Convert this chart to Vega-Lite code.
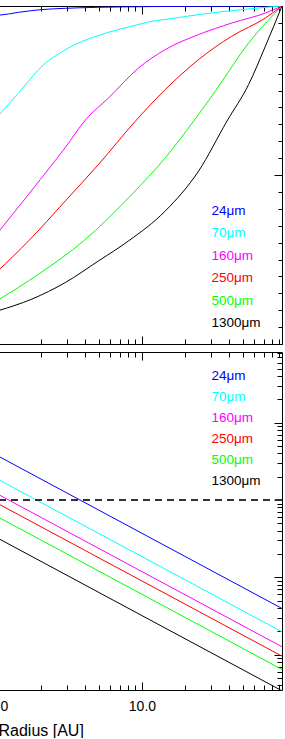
{
  "$schema": "https://vega.github.io/schema/vega-lite/v6.json",
  "background": "white",
  "padding": {"left": -12, "top": 5, "right": 0, "bottom": 0},
  "spacing": 8,
  "bounds": "flush",
  "config": {
    "font": "Liberation Sans",
    "view": {"stroke": null},
    "axis": {"domainColor": "black", "tickColor": "black", "grid": false, "labelColor": "black", "titleColor": "black", "domainWidth": 1, "tickWidth": 1}
  },
  "resolve": {"legend": {"color": "independent"}},
  "datasets": {
    "cum": [
      {"series": "24μm", "r": 1, "f": 0.9725}, {"series": "24μm", "r": 1.185, "f": 0.9764}, {"series": "24μm", "r": 1.39, "f": 0.9814}, {"series": "24μm", "r": 1.72, "f": 0.9864}, {"series": "24μm", "r": 2.019, "f": 0.9894}, {"series": "24μm", "r": 2.936, "f": 0.9932}, {"series": "24μm", "r": 5.0, "f": 0.9961}, {"series": "24μm", "r": 11.13, "f": 0.9982}, {"series": "24μm", "r": 24.77, "f": 0.9991}, {"series": "24μm", "r": 94, "f": 1.0},
      {"series": "70μm", "r": 1, "f": 0.6742}, {"series": "70μm", "r": 1.185, "f": 0.7094}, {"series": "70μm", "r": 1.39, "f": 0.7431}, {"series": "70μm", "r": 1.632, "f": 0.7776}, {"series": "70μm", "r": 1.915, "f": 0.8121}, {"series": "70μm", "r": 2.247, "f": 0.8387}, {"series": "70μm", "r": 2.637, "f": 0.8582}, {"series": "70μm", "r": 3.094, "f": 0.8759}, {"series": "70μm", "r": 3.633, "f": 0.8907}, {"series": "70μm", "r": 4.263, "f": 0.9025}, {"series": "70μm", "r": 5.87, "f": 0.9223}, {"series": "70μm", "r": 8.52, "f": 0.9401}, {"series": "70μm", "r": 11.13, "f": 0.9528}, {"series": "70μm", "r": 17.07, "f": 0.9645}, {"series": "70μm", "r": 24.77, "f": 0.9746}, {"series": "70μm", "r": 42.22, "f": 0.9864}, {"series": "70μm", "r": 64.7, "f": 0.9941}, {"series": "70μm", "r": 94, "f": 1.0},
      {"series": "160μm", "r": 1, "f": 0.3296}, {"series": "160μm", "r": 1.72, "f": 0.4554}, {"series": "160μm", "r": 2.936, "f": 0.5815}, {"series": "160μm", "r": 4.081, "f": 0.6645}, {"series": "160μm", "r": 5.87, "f": 0.7283}, {"series": "160μm", "r": 9.49, "f": 0.8169}, {"series": "160μm", "r": 14.54, "f": 0.8712}, {"series": "160μm", "r": 24.77, "f": 0.9155}, {"series": "160μm", "r": 42.22, "f": 0.9498}, {"series": "160μm", "r": 72.05, "f": 0.9793}, {"series": "160μm", "r": 94, "f": 1.0},
      {"series": "250μm", "r": 1, "f": 0.2165}, {"series": "250μm", "r": 1.632, "f": 0.3051}, {"series": "250μm", "r": 2.936, "f": 0.4232}, {"series": "250μm", "r": 5.0, "f": 0.5316}, {"series": "250μm", "r": 9.0, "f": 0.6592}, {"series": "250μm", "r": 14.54, "f": 0.7531}, {"series": "250μm", "r": 24.77, "f": 0.8417}, {"series": "250μm", "r": 42.02, "f": 0.9105}, {"series": "250μm", "r": 72.05, "f": 0.9646}, {"series": "250μm", "r": 94, "f": 1.0},
      {"series": "500μm", "r": 1, "f": 0.1299}, {"series": "500μm", "r": 1.915, "f": 0.2067}, {"series": "500μm", "r": 3.934, "f": 0.3051}, {"series": "500μm", "r": 8.52, "f": 0.443}, {"series": "500μm", "r": 14.54, "f": 0.5511}, {"series": "500μm", "r": 22.87, "f": 0.6594}, {"series": "500μm", "r": 32.36, "f": 0.748}, {"series": "500μm", "r": 55.14, "f": 0.8907}, {"series": "500μm", "r": 94, "f": 1.0},
      {"series": "1300μm", "r": 1, "f": 0.0984}, {"series": "1300μm", "r": 1.72, "f": 0.1329}, {"series": "1300μm", "r": 2.936, "f": 0.1819}, {"series": "1300μm", "r": 5.0, "f": 0.246}, {"series": "1300μm", "r": 8.08, "f": 0.3051}, {"series": "1300μm", "r": 14.54, "f": 0.3937}, {"series": "1300μm", "r": 24.77, "f": 0.5118}, {"series": "1300μm", "r": 38.97, "f": 0.6594}, {"series": "1300μm", "r": 55.14, "f": 0.7679}, {"series": "1300μm", "r": 72.05, "f": 0.881}, {"series": "1300μm", "r": 94, "f": 1.0}
    ],
    "tau": [
      {"series": "24μm", "r": 1, "tau": 3.71}, {"series": "24μm", "r": 94, "tau": 0.03947},
      {"series": "70μm", "r": 1, "tau": 1.85}, {"series": "70μm", "r": 94, "tau": 0.01968},
      {"series": "160μm", "r": 1, "tau": 1.185}, {"series": "160μm", "r": 94, "tau": 0.01261},
      {"series": "250μm", "r": 1, "tau": 0.896}, {"series": "250μm", "r": 94, "tau": 0.009532},
      {"series": "500μm", "r": 1, "tau": 0.603}, {"series": "500μm", "r": 94, "tau": 0.006415},
      {"series": "1300μm", "r": 1, "tau": 0.3195}, {"series": "1300μm", "r": 94, "tau": 0.003399}
    ]
  },
  "vconcat": [
    {
      "width": 284,
      "height": 338,
      "data": {"name": "cum"},
      "resolve": {"axis": {"x": "independent", "y": "independent"}},
      "layer": [
        {
          "transform": [{"filter": {"field": "series", "oneOf": ["24μm", "70μm", "160μm"]}}],
          "mark": {"type": "line", "strokeWidth": 1, "clip": true, "interpolate": "monotone"},
          "encoding": {
            "x": {"field": "r", "type": "quantitative", "scale": {"type": "log", "domain": [1, 94], "nice": false},
              "axis": {"orient": "bottom", "values": [1, 2, 3, 4, 5, 6, 7, 8, 9, 10, 20, 30, 40, 50, 60, 70, 80, 90], "tickSize": {"condition": {"test": "abs(log(datum.value)/LN10 - round(log(datum.value)/LN10)) < 0.001", "value": -8}, "value": -5}, "tickOpacity": {"condition": {"test": "datum.value == 1", "value": 0}, "value": 1}, "labels": false, "title": null}},
            "y": {"field": "f", "type": "quantitative", "scale": {"domain": [0, 1], "nice": false, "zero": false},
              "axis": {"orient": "right", "values": [0, 0.05, 0.1, 0.15, 0.2, 0.25, 0.3, 0.35, 0.4, 0.45, 0.5, 0.55, 0.6, 0.65, 0.7, 0.75, 0.8, 0.85, 0.9, 0.95, 1], "tickSize": {"condition": {"test": "abs(datum.value*2 - round(datum.value*2)) < 0.001", "value": -8}, "value": -4}, "labels": false, "title": null}},
            "color": {"field": "series", "type": "nominal",
              "scale": {"domain": ["24μm", "70μm", "160μm", "250μm", "500μm", "1300μm"], "range": ["#0000ff", "#00ffff", "#ff00ff", "#ff0000", "#00ff00", "#000000"]},
              "legend": {"orient": "none", "legendX": 200, "legendY": 198, "title": null, "padding": 0, "symbolSize": 0, "symbolOpacity": 0, "symbolStrokeWidth": 0, "symbolType": "circle", "labelOffset": 0, "labelFontSize": 13.5, "labelFont": "Liberation Sans", "rowPadding": 7.5,
                "labelColor": {"expr": "datum.label == '24μm' ? '#0000ff' : datum.label == '70μm' ? '#00ffff' : datum.label == '160μm' ? '#ff00ff' : datum.label == '250μm' ? '#ff0000' : datum.label == '500μm' ? '#00ff00' : '#000000'"}}}
          }
        },
        {
          "transform": [{"filter": {"field": "series", "oneOf": ["250μm", "500μm", "1300μm"]}}],
          "mark": {"type": "line", "strokeWidth": 1, "clip": true, "interpolate": "monotone"},
          "encoding": {
            "x": {"field": "r", "type": "quantitative", "scale": {"type": "log", "domain": [1, 94], "nice": false},
              "axis": {"orient": "top", "values": [1, 2, 3, 4, 5, 6, 7, 8, 9, 10, 20, 30, 40, 50, 60, 70, 80, 90], "tickSize": {"condition": {"test": "abs(log(datum.value)/LN10 - round(log(datum.value)/LN10)) < 0.001", "value": -8}, "value": -5}, "tickOpacity": {"condition": {"test": "datum.value == 1", "value": 0}, "value": 1}, "labels": false, "title": null}},
            "y": {"field": "f", "type": "quantitative", "scale": {"domain": [0, 1], "nice": false, "zero": false}, "axis": null},
            "color": {"field": "series", "type": "nominal",
              "scale": {"domain": ["24μm", "70μm", "160μm", "250μm", "500μm", "1300μm"], "range": ["#0000ff", "#00ffff", "#ff00ff", "#ff0000", "#00ff00", "#000000"]},
              "legend": {"orient": "none", "legendX": 200, "legendY": 198, "title": null, "padding": 0, "symbolSize": 0, "symbolOpacity": 0, "symbolStrokeWidth": 0, "symbolType": "circle", "labelOffset": 0, "labelFontSize": 13.5, "labelFont": "Liberation Sans", "rowPadding": 7.5,
                "labelColor": {"expr": "datum.label == '24μm' ? '#0000ff' : datum.label == '70μm' ? '#00ffff' : datum.label == '160μm' ? '#ff00ff' : datum.label == '250μm' ? '#ff0000' : datum.label == '500μm' ? '#00ff00' : '#000000'"}}}
          }
        }
      ]
    },
    {
      "width": 284,
      "height": 338,
      "data": {"name": "tau"},
      "resolve": {"axis": {"x": "independent", "y": "independent"}},
      "layer": [
        {
          "transform": [{"filter": {"field": "series", "oneOf": ["24μm", "70μm", "160μm"]}}],
          "mark": {"type": "line", "strokeWidth": 1, "clip": true},
          "encoding": {
            "x": {"field": "r", "type": "quantitative", "scale": {"type": "log", "domain": [1, 94], "nice": false},
              "axis": {"orient": "bottom", "values": [1, 2, 3, 4, 5, 6, 7, 8, 9, 10, 20, 30, 40, 50, 60, 70, 80, 90], "tickSize": {"condition": {"test": "abs(log(datum.value)/LN10 - round(log(datum.value)/LN10)) < 0.001", "value": -8}, "value": -5}, "tickOpacity": {"condition": {"test": "datum.value == 1", "value": 0}, "value": 1},
                "labelExpr": "datum.value == 1 || datum.value == 10 ? format(datum.value, '.1f') : ''", "labelFontSize": 14, "labelPadding": 17, "labelFlush": false, "labelOverlap": false, "labelBound": false,
                "title": "Radius [AU]", "titleFontSize": 16, "titleFontWeight": "normal", "titleAnchor": "start", "titleAlign": "left", "titleX": 0, "titleY": 45, "titleBaseline": "alphabetic"}},
            "y": {"field": "tau", "type": "quantitative", "scale": {"type": "log", "domain": [0.00348, 82.2], "nice": false},
              "axis": {"orient": "right", "values": [0.004, 0.005, 0.006, 0.007, 0.008, 0.009, 0.01, 0.02, 0.03, 0.04, 0.05, 0.06, 0.07, 0.08, 0.09, 0.1, 0.2, 0.3, 0.4, 0.5, 0.6, 0.7, 0.8, 0.9, 1, 2, 3, 4, 5, 6, 7, 8, 9, 10, 20, 30, 40, 50, 60, 70, 80], "tickSize": {"condition": {"test": "abs(log(datum.value)/LN10 - round(log(datum.value)/LN10)) < 0.001", "value": -8}, "value": -5}, "labels": false, "title": null}},
            "color": {"field": "series", "type": "nominal",
              "scale": {"domain": ["24μm", "70μm", "160μm", "250μm", "500μm", "1300μm"], "range": ["#0000ff", "#00ffff", "#ff00ff", "#ff0000", "#00ff00", "#000000"]},
              "legend": {"orient": "none", "legendX": 200, "legendY": 17, "title": null, "padding": 0, "symbolSize": 0, "symbolOpacity": 0, "symbolStrokeWidth": 0, "symbolType": "circle", "labelOffset": 0, "labelFontSize": 13.5, "labelFont": "Liberation Sans", "rowPadding": 6,
                "labelColor": {"expr": "datum.label == '24μm' ? '#0000ff' : datum.label == '70μm' ? '#00ffff' : datum.label == '160μm' ? '#ff00ff' : datum.label == '250μm' ? '#ff0000' : datum.label == '500μm' ? '#00ff00' : '#000000'"}}}
          }
        },
        {
          "transform": [{"filter": {"field": "series", "oneOf": ["250μm", "500μm", "1300μm"]}}],
          "mark": {"type": "line", "strokeWidth": 1, "clip": true},
          "encoding": {
            "x": {"field": "r", "type": "quantitative", "scale": {"type": "log", "domain": [1, 94], "nice": false},
              "axis": {"orient": "top", "values": [1, 2, 3, 4, 5, 6, 7, 8, 9, 10, 20, 30, 40, 50, 60, 70, 80, 90], "tickSize": {"condition": {"test": "abs(log(datum.value)/LN10 - round(log(datum.value)/LN10)) < 0.001", "value": -8}, "value": -5}, "tickOpacity": {"condition": {"test": "datum.value == 1", "value": 0}, "value": 1}, "labels": false, "title": null}},
            "y": {"field": "tau", "type": "quantitative", "scale": {"type": "log", "domain": [0.00348, 82.2], "nice": false}, "axis": null},
            "color": {"field": "series", "type": "nominal",
              "scale": {"domain": ["24μm", "70μm", "160μm", "250μm", "500μm", "1300μm"], "range": ["#0000ff", "#00ffff", "#ff00ff", "#ff0000", "#00ff00", "#000000"]},
              "legend": {"orient": "none", "legendX": 200, "legendY": 17, "title": null, "padding": 0, "symbolSize": 0, "symbolOpacity": 0, "symbolStrokeWidth": 0, "symbolType": "circle", "labelOffset": 0, "labelFontSize": 13.5, "labelFont": "Liberation Sans", "rowPadding": 6,
                "labelColor": {"expr": "datum.label == '24μm' ? '#0000ff' : datum.label == '70μm' ? '#00ffff' : datum.label == '160μm' ? '#ff00ff' : datum.label == '250μm' ? '#ff0000' : datum.label == '500μm' ? '#00ff00' : '#000000'"}}}
          }
        },
        {
          "mark": {"type": "rule", "color": "#333333", "strokeWidth": 0.8, "strokeDash": [7, 5]},
          "encoding": {"y": {"datum": 1, "axis": null, "scale": {"type": "log", "domain": [0.00348, 82.2], "nice": false}}}
        }
      ]
    }
  ]
}
